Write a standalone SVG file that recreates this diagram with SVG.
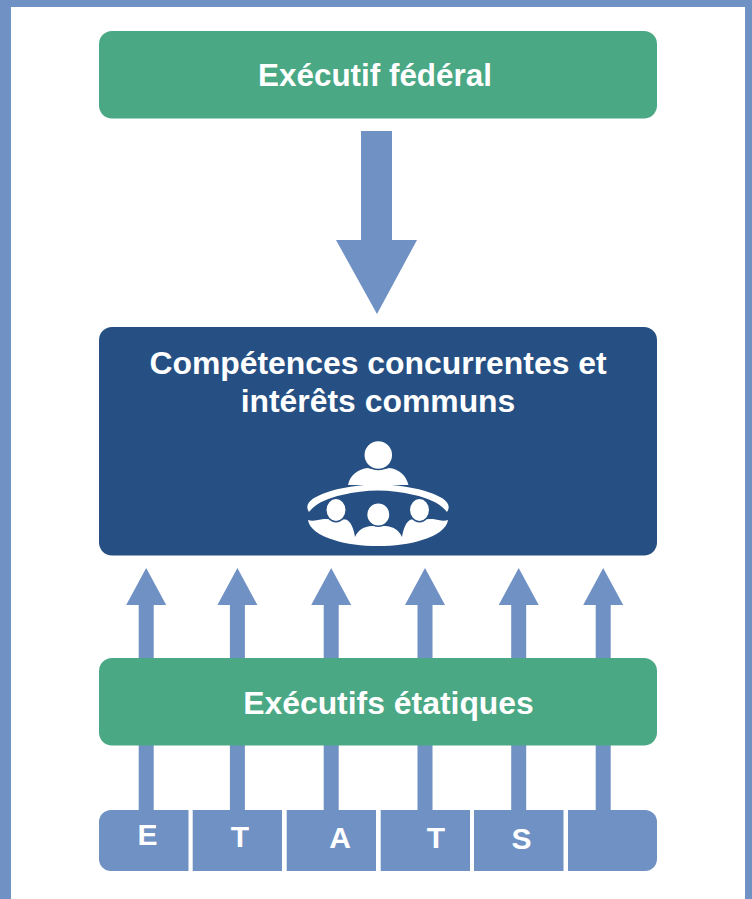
<svg xmlns="http://www.w3.org/2000/svg" width="752" height="899" viewBox="0 0 752 899">
<style>
.b{fill:#7091c4}
.g{fill:#4aa884}
.w{fill:#fff}
.h{fill:#fff;stroke:#265083;stroke-width:1.500}
.t{font-family:"Liberation Sans",Arial,sans-serif;font-weight:700;fill:#fff;text-anchor:middle}
</style>
<defs>
<g id="up"><path class="b" d="M-7.5 91V37H-20V37L0 0 20 37H7.500V91Z"/></g>
<g id="dn"><rect class="b" x="-7.500" width="15" height="66"/></g>
</defs>
<rect width="752" height="899" fill="#fff"/>
<path class="b" d="M0 0H752V899H745V7H11V899H0Z"/>
<g id="connectors">
<path id="arrow-federal" class="b" d="M361 131H392V240H417L377 314 336 240H361Z"/>
<use href="#up" x="146.200" y="568"/><use href="#up" x="237.400" y="568"/><use href="#up" x="331.200" y="568"/>
<use href="#up" x="425" y="568"/><use href="#up" x="518.700" y="568"/><use href="#up" x="603.200" y="568"/>
<use href="#dn" x="146.200" y="745"/><use href="#dn" x="237.400" y="745"/><use href="#dn" x="331.200" y="745"/>
<use href="#dn" x="425" y="745"/><use href="#dn" x="518.700" y="745"/><use href="#dn" x="603.200" y="745"/>
</g>
<g id="executif-federal">
<rect class="g" x="99" y="31" width="558" height="87.500" rx="13"/>
<text class="t" x="375" y="86" font-size="31.400">Exécutif fédéral</text>
</g>
<g id="competences">
<rect x="99" y="327" width="558" height="228.500" rx="13" fill="#265083"/>
<text class="t" x="378" y="374" font-size="31.900">Compétences concurrentes et</text>
<text class="t" x="378" y="412" font-size="31.900">intérêts communs</text>
<g id="icon">
<path class="w" d="M348 485C350 475 358 469 368 468C374 470 383 470 389 468C399 469 406 475 408.500 485Z"/>
<circle class="h" cx="378.300" cy="455" r="14.500"/>
<path class="w" d="M309 512C303 503 314 497 325 493C340 487.500 360 484.500 378 484.500C396 484.500 416 487.500 431 493C442 497 453 503 447 512C440 503 428 498 414 495C402 492 390 490.500 378 490.500C366 490.500 354 492 342 495C328 498 316 503 309 512Z"/>
<path class="w" d="M308 520C313 522 318 519.500 324 519L346 519.500C351 521 354 530 355 537C358 530 364 526.500 372 526L385 526C393 526.500 399 530 402 537C403 530 406 521 411 519.500L433 519C438 519.500 443 522 448 520C447 528 437 536 422 540C410 544 394 546 378 546C362 546 346 544 334 540C319 536 309 528 308 520Z"/>
<ellipse class="h" cx="336" cy="510" rx="10.200" ry="11.700"/>
<circle class="h" cx="378.300" cy="514.500" r="11.700"/>
<ellipse class="h" cx="419.500" cy="510" rx="10.200" ry="11.700"/>
</g>
</g>
<g id="executifs-etatiques">
<rect class="g" x="99" y="658" width="558" height="87.500" rx="13"/>
<text class="t" x="388.500" y="714" font-size="31.900">Exécutifs étatiques</text>
</g>
<g id="etats">
<path class="b" d="M111 810H188.500V871H111A12 12 0 0 1 99 859V822A12 12 0 0 1 111 810Z"/>
<rect class="b" x="192.700" y="810" width="89.300" height="61"/>
<rect class="b" x="286.700" y="810" width="89.300" height="61"/>
<rect class="b" x="380.700" y="810" width="89.300" height="61"/>
<rect class="b" x="474" y="810" width="89.500" height="61"/>
<path class="b" d="M568 810H645A12 12 0 0 1 657 822V859A12 12 0 0 1 645 871H568Z"/>
<text class="t" x="147.500" y="845" font-size="30">E</text>
<text class="t" x="240" y="847" font-size="30">T</text>
<text class="t" x="340" y="848" font-size="30">A</text>
<text class="t" x="436" y="848" font-size="30">T</text>
<text class="t" x="521.500" y="849" font-size="30">S</text>
</g>
</svg>
